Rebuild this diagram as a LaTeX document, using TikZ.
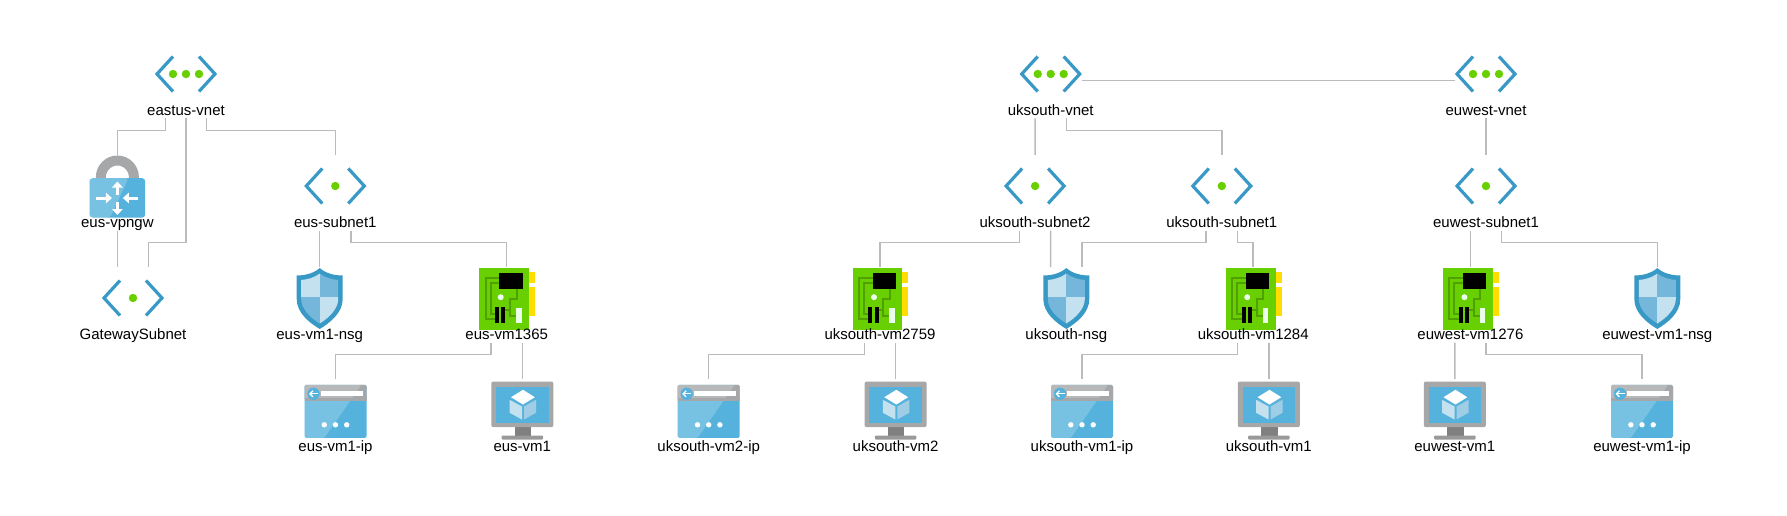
\documentclass[tikz,border=0pt]{standalone}
\usepackage{fontspec}
\setmainfont{Liberation Sans}
\usetikzlibrary{positioning,arrows.meta}
\definecolor{azureline}{HTML}{3999C6}
\definecolor{azureblue}{HTML}{55B2DC}
\definecolor{azurepale}{HTML}{C3E1EE}
\definecolor{azuremid}{HTML}{74B7DA}
\definecolor{leafgreen}{HTML}{68D000}
\definecolor{tracegreen}{HTML}{4FA000}
\definecolor{tabyellow}{HTML}{FFDD00}
\definecolor{iconGray}{HTML}{A6A7A9}
\definecolor{linkgray}{HTML}{BBBBBB}
\tikzset{
  iconbox/.style={minimum size=62pt,inner sep=0pt,outer sep=0pt},
  netlabel/.style={text height=11pt,text depth=3pt,inner sep=0pt,outer sep=0pt,font=\fontsize{15}{17}\selectfont},
  link/.style={draw=linkgray,line width=1.5pt},
  chevrons/.pic={
    \draw[azureline,line width=3.2pt,miter limit=10] (-13,-17.5) -- (-29,0) -- (-13,17.5);
    \draw[azureline,line width=3.2pt,miter limit=10] (13,-17.5) -- (29,0) -- (13,17.5);
  },
  vneticon/.pic={
    \pic {chevrons};
    \foreach \dx in {-13,0,13} \fill[leafgreen] (\dx,0) circle[radius=4.2pt];
  },
  subneticon/.pic={
    \pic {chevrons};
    \fill[leafgreen] (0,0) circle[radius=4.2pt];
  },
  vpnicon/.pic={
    \draw[iconGray,line width=10pt] (-16.5,-6) -- (-16.5,-9) .. controls (-16.5,-18) and (-9,-25.5) .. (0,-25.5) .. controls (9,-25.5) and (16.5,-18) .. (16.5,-9) -- (16.5,-6);
    \fill[azureblue,rounded corners=3pt] (-27.8,-7.8) rectangle (27.8,31.5);
    \fill[white,opacity=.2,rounded corners=3pt] (-27.8,-7.8) -- (11,-7.8) -- (-7,31.5) -- (-27.8,31.5) -- cycle;
    \foreach \ax/\ay/\bx/\by in {-21/12/-5.5/12,21/12/5.5/12,0/9/0/-4.5,0/16/0/29}
      \draw[white,line width=3pt,-{Triangle[width=10.5pt,length=6pt]}] (\ax,\ay) -- (\bx,\by);
  },
  shieldicon/.pic={
    \fill[azureline] (0,-30) .. controls (-6,-24.5) and (-15,-22.5) .. (-23,-22.5) -- (-23,1) .. controls (-23,15) and (-10,25) .. (0,31) .. controls (10,25) and (23,15) .. (23,1) -- (23,-22.5) .. controls (15,-22.5) and (6,-24.5) .. (0,-30) -- cycle;
    \begin{scope}
      \clip (0,-24.5) .. controls (-5,-20.5) and (-12,-18.5) .. (-18.5,-18) -- (-18.5,1) .. controls (-18.5,11) and (-9,20) .. (0,25.5) .. controls (9,20) and (18.5,11) .. (18.5,1) -- (18.5,-18) .. controls (12,-18.5) and (5,-20.5) .. (0,-24.5) -- cycle;
      \fill[azurepale] (-24,-31) rectangle (0,-0.8);
      \fill[azuremid] (0,-31) rectangle (24,-0.8);
      \fill[azuremid] (-24,-0.8) rectangle (0,32);
      \fill[azurepale] (0,-0.8) rectangle (24,32);
    \end{scope}
  },
  nicicon/.pic={
    \fill[tabyellow] (22.3,-25.8) rectangle (28.3,-15.2);
    \fill[tabyellow] (22.3,-10.8) rectangle (28.3,18.2);
    \fill[leafgreen] (-27.4,-30.5) rectangle (22.3,31.5);
    \draw[tracegreen,line width=2pt] (-7.3,-20.2) -| (-21,20.8) -- (-11.7,20.8);
    \draw[tracegreen,line width=2pt] (-7.3,-15.2) -| (-16,15.8) -- (-11.7,15.8);
    \draw[tracegreen,line width=2pt] (10,-9.5) |- (3.3,1) -- (3.3,12) -- (-1.4,12);
    \draw[tracegreen,line width=2pt] (3.3,12) -- (3.3,18) -- (9.3,18);
    \fill[black] (-7.4,-24.8) rectangle (16,-9.5);
    \fill[black] (-11.7,9.2) rectangle (-7.7,25.2);
    \fill[black] (-5.4,9.2) rectangle (-1.4,25.2);
    \fill[black!5!green!8!white] (9.3,9.8) rectangle (15,24.8);
    \fill[black!5!green!8!white] (-6,-0.8) circle[radius=3pt];
  },
  ipicon/.pic={
    \fill[azureblue,rounded corners=1.5pt] (-31,-25.2) rectangle (31,27.8);
    \fill[iconGray,rounded corners=1.5pt] (-31,-25.2) rectangle (31,-9.5);
    \fill[azureblue] (-31,-12) rectangle (31,-9.5);
    \fill[white,opacity=.2,rounded corners=1.5pt] (-31,-25.2) -- (26,-25.2) -- (-11,27.8) -- (-31,27.8) -- cycle;
    \fill[iconGray] (-31,-12) rectangle (31,-9.5);
    \fill[azureblue] (-22,-16.2) circle[radius=6.2pt];
    \draw[white,line width=1.3pt,-{Straight Barb[width=6pt,length=3pt]}] (-17.5,-16.2) -- (-26.5,-16.2);
    \fill[white] (-14.7,-18.8) rectangle (27.3,-14.1);
    \foreach \dx in {-11.2,0,11.2} \fill[white] (\dx,14.8) circle[radius=2.7pt];
  },
  vmicon/.pic={
    \fill[black!50] (-7.7,17) rectangle (8.7,26);
    \fill[black!40,rounded corners=1pt] (-20.7,25.5) rectangle (20.7,29.5);
    \fill[iconGray,rounded corners=2pt] (-31,-28.5) rectangle (31,17.2);
    \fill[azureblue] (-26.3,-23.5) rectangle (26.3,12.5);
    \fill[white] (0.7,-20.2) -- (12.5,-12.8) -- (0.7,-5.5) -- (-11.3,-12.8) -- cycle;
    \fill[azurepale] (-12.7,-10.2) -- (-0.3,-3.5) -- (-0.3,9.5) -- (-12.7,2.8) -- cycle;
    \fill[azuremid!70!white] (13.7,-10.2) -- (1.7,-3.5) -- (1.7,9.5) -- (13.7,2.8) -- cycle;
  }
}
\begin{document}
\begin{tikzpicture}[x=1pt,y=-1pt]
\useasboundingbox (0,0) rectangle (1787,516);
% first row
\node (eastusvnet) [iconbox] at (186,74) {}; \pic at (eastusvnet) {vneticon};
\node (uksouthvnet) [iconbox] at (1050.7,74) {}; \pic at (uksouthvnet) {vneticon};
\node (euwestvnet) [iconbox] at (1486,74) {}; \pic at (euwestvnet) {vneticon};
% second row
\node (eusvpngw) [iconbox] at (117.4,186) {}; \pic at (eusvpngw) {vpnicon};
\node (eussubnet) [iconbox] at (335.3,186) {}; \pic at (eussubnet) {subneticon};
\node (uksubnettwo) [iconbox] at (1035.1,186) {}; \pic at (uksubnettwo) {subneticon};
\node (uksubnetone) [iconbox] at (1221.8,186) {}; \pic at (uksubnetone) {subneticon};
\node (euwestsubnet) [iconbox] at (1486,186) {}; \pic at (euwestsubnet) {subneticon};
% third row
\node (gatewaysubnet) [iconbox] at (133,298) {}; \pic at (gatewaysubnet) {subneticon};
\node (eusnsg) [iconbox] at (319.7,298) {}; \pic at (eusnsg) {shieldicon};
\node (eusnic) [iconbox] at (506.7,298) {}; \pic at (eusnic) {nicicon};
\node (uknictwo) [iconbox] at (880,298) {}; \pic at (uknictwo) {nicicon};
\node (uknsg) [iconbox] at (1066.3,298) {}; \pic at (uknsg) {shieldicon};
\node (uknicone) [iconbox] at (1253.2,298) {}; \pic at (uknicone) {nicicon};
\node (euwestnic) [iconbox] at (1470.4,298) {}; \pic at (euwestnic) {nicicon};
\node (euwestnsg) [iconbox] at (1657.3,298) {}; \pic at (euwestnsg) {shieldicon};
% fourth row
\node (eusip) [iconbox] at (335.5,410) {}; \pic at (eusip) {ipicon};
\node (eusvm) [iconbox] at (522.3,410) {}; \pic at (eusvm) {vmicon};
\node (ukiptwo) [iconbox] at (708.7,410) {}; \pic at (ukiptwo) {ipicon};
\node (ukvmtwo) [iconbox] at (895.6,410) {}; \pic at (ukvmtwo) {vmicon};
\node (ukipone) [iconbox] at (1082,410) {}; \pic at (ukipone) {ipicon};
\node (ukvmone) [iconbox] at (1268.8,410) {}; \pic at (ukvmone) {vmicon};
\node (euwestvm) [iconbox] at (1454.8,410) {}; \pic at (euwestvm) {vmicon};
\node (euwestip) [iconbox] at (1642,410) {}; \pic at (euwestip) {ipicon};
% labels
\node (eastusvnettxt) [netlabel,below=-0.5pt of eastusvnet] {eastus-vnet};
\node (uksouthvnettxt) [netlabel,below=-0.5pt of uksouthvnet] {uksouth-vnet};
\node (euwestvnettxt) [netlabel,below=-0.5pt of euwestvnet] {euwest-vnet};
\node (eusvpngwtxt) [netlabel,below=-0.5pt of eusvpngw] {eus-vpngw};
\node (eussubnettxt) [netlabel,below=-0.5pt of eussubnet] {eus-subnet1};
\node (uksubnettwotxt) [netlabel,below=-0.5pt of uksubnettwo] {uksouth-subnet2};
\node (uksubnetonetxt) [netlabel,below=-0.5pt of uksubnetone] {uksouth-subnet1};
\node (euwestsubnettxt) [netlabel,below=-0.5pt of euwestsubnet] {euwest-subnet1};
\node (gatewaysubnettxt) [netlabel,below=-0.5pt of gatewaysubnet] {GatewaySubnet};
\node (eusnsgtxt) [netlabel,below=-0.5pt of eusnsg] {eus-vm1-nsg};
\node (eusnictxt) [netlabel,below=-0.5pt of eusnic] {eus-vm1365};
\node (uknictwotxt) [netlabel,below=-0.5pt of uknictwo] {uksouth-vm2759};
\node (uknsgtxt) [netlabel,below=-0.5pt of uknsg] {uksouth-nsg};
\node (uknic)  [netlabel,below=-0.5pt of uknicone] {uksouth-vm1284};
\node (euwestnictxt) [netlabel,below=-0.5pt of euwestnic] {euwest-vm1276};
\node (euwestnsgtxt) [netlabel,below=-0.5pt of euwestnsg] {euwest-vm1-nsg};
\node (eusiptxt) [netlabel,below=-0.5pt of eusip] {eus-vm1-ip};
\node (eusvmtxt) [netlabel,below=-0.5pt of eusvm] {eus-vm1};
\node (ukiptwotxt) [netlabel,below=-0.5pt of ukiptwo] {uksouth-vm2-ip};
\node (ukvmtwotxt) [netlabel,below=-0.5pt of ukvmtwo] {uksouth-vm2};
\node (ukiponetxt) [netlabel,below=-0.5pt of ukipone] {uksouth-vm1-ip};
\node (ukvmonetxt) [netlabel,below=-0.5pt of ukvmone] {uksouth-vm1};
\node (euwestvmtxt) [netlabel,below=-0.5pt of euwestvm] {euwest-vm1};
\node (euwestiptxt) [netlabel,below=-0.5pt of euwestip] {euwest-vm1-ip};
% links
\draw[link] ([xshift=-20.7]eastusvnettxt.south) -- ++(0,12) -| (eusvpngw.north);
\draw[link] (eastusvnettxt.south) |- ++(-37.3,124) -- ([xshift=15.7]gatewaysubnet.north);
\draw[link] ([xshift=20.7]eastusvnettxt.south) -- ++(0,12) -| (eussubnet.north);
\draw[link] (eusvpngwtxt.south) -- ([xshift=-15.6]gatewaysubnet.north);
\draw[link] ([xshift=-15.6]eussubnettxt.south) -- (eusnsg.north);
\draw[link] ([xshift=15.6]eussubnettxt.south) -- ++(0,12) -| (eusnic.north);
\draw[link] ([xshift=-15.6]eusnictxt.south) -- ++(0,12) -| (eusip.north);
\draw[link] ([xshift=15.6]eusnictxt.south) -- (eusvm.north);
\draw[link] ([yshift=-6.5]uksouthvnet.east) -- ([yshift=-6.5]euwestvnet.west);
\draw[link] ([xshift=-15.6]uksouthvnettxt.south) -- (uksubnettwo.north);
\draw[link] ([xshift=15.6]uksouthvnettxt.south) -- ++(0,12) -| (uksubnetone.north);
\draw[link] (euwestvnettxt.south) -- (euwestsubnet.north);
\draw[link] ([xshift=-15.6]uksubnettwotxt.south) -- ++(0,12) -| (uknictwo.north);
\draw[link] ([xshift=15.6]uksubnettwotxt.south) -- ([xshift=-15.6]uknsg.north);
\draw[link] ([xshift=-15.6]uksubnetonetxt.south) -- ++(0,12) -| ([xshift=15.6]uknsg.north);
\draw[link] ([xshift=15.6]uksubnetonetxt.south) -- ++(0,12) -| (uknicone.north);
\draw[link] ([xshift=-15.6]euwestsubnettxt.south) -- (euwestnic.north);
\draw[link] ([xshift=15.6]euwestsubnettxt.south) -- ++(0,12) -| (euwestnsg.north);
\draw[link] ([xshift=-15.6]uknictwotxt.south) -- ++(0,12) -| (ukiptwo.north);
\draw[link] ([xshift=15.6]uknictwotxt.south) -- (ukvmtwo.north);
\draw[link] ([xshift=-15.6]uknic.south) -- ++(0,12) -| (ukipone.north);
\draw[link] ([xshift=15.6]uknic.south) -- (ukvmone.north);
\draw[link] ([xshift=-15.6]euwestnictxt.south) -- (euwestvm.north);
\draw[link] ([xshift=15.6]euwestnictxt.south) -- ++(0,12) -| (euwestip.north);
\end{tikzpicture}
\end{document}
